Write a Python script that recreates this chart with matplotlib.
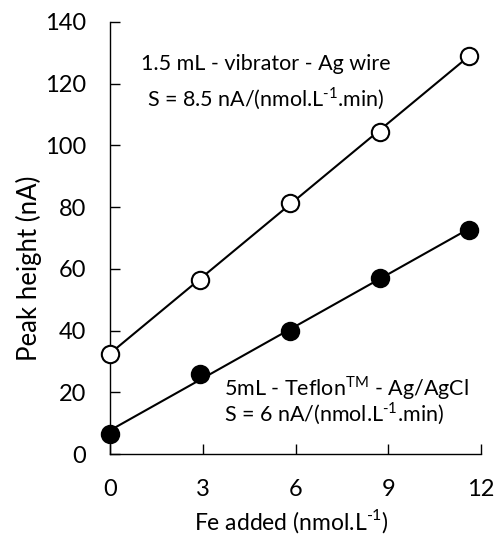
import matplotlib
matplotlib.use("Agg")
import matplotlib.pyplot as plt
import numpy as np

plt.rcParams['font.family'] = ['Lato', 'DejaVu Sans']
plt.rcParams['mathtext.fontset'] = 'custom'
plt.rcParams['mathtext.rm'] = 'Lato'

x_open = [0, 2.9, 5.82, 8.74, 11.6]
y_open = [32.5, 56.5, 81.5, 104.5, 129]
x_fill = [0, 2.9, 5.82, 8.74, 11.6]
y_fill = [6.5, 25.8, 39.9, 57.0, 72.6]
xticks = [0, 3, 6, 9, 12]
yticks = [0, 20, 40, 60, 80, 100, 120, 140]

fig = plt.figure(figsize=(4.96, 5.35), dpi=100)
ax = fig.add_axes([0.2218, 0.1514, 0.748, 0.8075])

for xs, ys, face in [(x_open, y_open, 'white'), (x_fill, y_fill, 'black')]:
    p = np.polyfit(xs, ys, 1)
    xl = np.array([xs[0], xs[-1]])
    ax.plot(xl, np.polyval(p, xl), color='black', lw=1.5, zorder=2)
    ax.plot(xs, ys, 'o', ms=12.5, mfc=face, mec='black', mew=1.5, zorder=3, clip_on=False)

ax.set_xlim(0, 12)
ax.set_ylim(0, 140)
ax.set_xticks(xticks)
ax.set_yticks(yticks)
ax.tick_params(direction='in', length=7, width=1, labelsize=17)
ax.tick_params(axis='x', pad=18)
ax.tick_params(axis='y', pad=17)
for s in ['top', 'right']:
    ax.spines[s].set_visible(False)
for s in ['left', 'bottom']:
    ax.spines[s].set_linewidth(1)
ax.set_xlabel('Fe added (nmol.L$^{\\text{-}1}$)', fontsize=16.5)
ax.set_ylabel('Peak height (nA)', fontsize=18.5)
ax.xaxis.set_label_coords(0.49, -0.122)
ax.yaxis.set_label_coords(-0.183, 0.43)

ax.text(5.05, 126.5, '1.5 mL - vibrator - Ag wire', fontsize=15.5, ha='center', va='center')
ax.text(5.05, 115.0, 'S = 8.5 nA/(nmol.L$^{\\text{-}1}$.min)', fontsize=15.5, ha='center', va='center')
ax.text(3.7, 21.5, '5mL - Teflon$^{\\mathrm{TM}}$ - Ag/AgCl', fontsize=15.5, ha='left', va='center')
ax.text(3.7, 13.0, 'S = 6 nA/(nmol.L$^{\\text{-}1}$.min)', fontsize=15.5, ha='left', va='center')

fig.savefig('out.png', dpi=100)
